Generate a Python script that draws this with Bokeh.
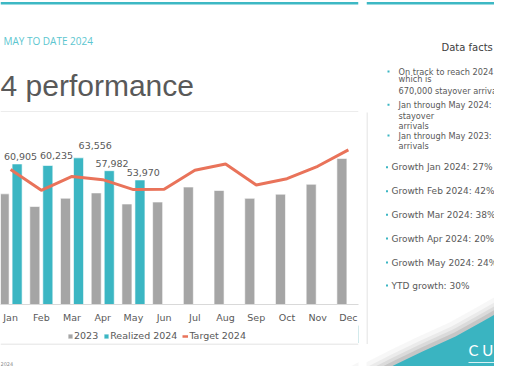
from bokeh.plotting import figure
from bokeh.models import Range1d, FactorRange, LabelSet, ColumnDataSource, Legend, LegendItem
from bokeh.transform import dodge
from bokeh.layouts import row, column
from bokeh.embed import file_html
from bokeh.resources import INLINE
from bokeh.core.properties import value

# ---------------- data ----------------
months = ["Jan", "Feb", "Mar", "Apr", "May", "Jun", "Jul", "Aug", "Sep", "Oct", "Nov", "Dec"]
arrivals_2023 = [47950, 42450, 46050, 48350, 43550, 44400, 50900, 49400, 46000, 47800, 52100, 63300]
realized_2024 = [60905, 60235, 63556, 57982, 53970]
target_2024 = [58500, 49500, 55500, 54100, 49800, 49900, 58200, 60900, 51800, 54500, 59900, 67000]
series_names = ["2023", "Realized 2024", "Target 2024"]

kicker = "MAY TO DATE 2024"
title_text = "4 performance"
facts_title = "Data facts"
facts_lines = ["On track to reach 2024 target", "which is", "670,000 stayover arrivals",
               "Jan through May 2024: 296,648", "stayover", "arrivals",
               "Jan through May 2023: 228,273 stayover", "arrivals"]
growth_lines = ["Growth Jan 2024: 27%", "Growth Feb 2024: 42%", "Growth Mar 2024: 38%",
                "Growth Apr 2024: 20%", "Growth May 2024: 24%", "YTD growth: 30%"]
footer_text = "2024"
brand_text = "C U"

# ---------------- styles ----------------
TEAL = "#3BB6C3"
GRAY = "#A5A5A5"
ORANGE = "#E9735A"
TXT = "#595959"
BORDER = "#D9D9D9"
FONT = "DejaVu Sans"

label_dx = [3.4, 8.7, 16.7, 2.8, 3.3]
label_dy = [7.3, 10.3, 12.3, 7.0, 7.4]


def blank(w, h, xr, yr):
    p = figure(width=w, height=h, x_range=Range1d(*xr), y_range=Range1d(*yr),
               output_backend="svg", toolbar_location=None,
               x_axis_location=None, y_axis_location=None,
               min_border=0, outline_line_color=None)
    p.xgrid.visible = False
    p.ygrid.visible = False
    return p


# ---------------- chart ----------------
x_range = FactorRange(factors=months, range_padding=-0.0285, range_padding_units="percent")
chart = figure(x_range=x_range, y_range=Range1d(0, 83200), width=366, height=213,
               output_backend="svg", toolbar_location=None, y_axis_location=None,
               min_border_left=0, min_border_top=0, min_border_right=8, min_border_bottom=18,
               outline_line_color=None)
chart.xgrid.visible = False
chart.ygrid.visible = False

src = ColumnDataSource(dict(month=months, y2023=arrivals_2023, target=target_2024))
src24 = ColumnDataSource(dict(month=months[:len(realized_2024)], y=realized_2024,
                              label=[f"{v:,}" for v in realized_2024],
                              dx=label_dx, dy=label_dy))

chart.vbar(x=dodge("month", -0.212, range=x_range), top="y2023", width=0.326, source=src,
           fill_color=GRAY, line_color="white", line_width=0.6)
chart.vbar(x=dodge("month", 0.212, range=x_range), top="y", width=0.326, source=src24,
           fill_color=TEAL, line_color="white", line_width=0.6)
chart.line(x="month", y="target", source=src, line_color=ORANGE, line_width=3)

labels = LabelSet(x=dodge("month", 0.212, range=x_range), y="y", text="label", source=src24,
                  x_offset="dx", y_offset="dy", text_align="center", text_baseline="middle",
                  text_font=value(FONT), text_font_size=value("9.5px"), text_color=TXT)
chart.add_layout(labels)

ax = chart.xaxis[0]
ax.axis_line_color = BORDER
ax.major_tick_line_color = None
ax.minor_tick_line_color = None
ax.major_tick_out = 0
ax.major_tick_in = 0
ax.major_label_standoff = 7
ax.major_label_text_font = FONT
ax.major_label_text_font_size = "9.5px"
ax.major_label_text_color = TXT

# ---------------- legend strip (below the axis, inside the chart box) ----------------
# legend keys: glyphs with the series' styles, parked outside the strip's visible range
leg = blank(366, 18, (0, 1), (0, 1))
g1 = leg.vbar(x=[5], top=[5], width=0.3, fill_color=GRAY, line_color="white", line_width=0.6)
g2 = leg.vbar(x=[5], top=[5], width=0.3, fill_color=TEAL, line_color="white", line_width=0.6)
g3 = leg.line(x=[5, 6], y=[5, 5], line_color=ORANGE, line_width=2.5)
legend = Legend(items=[LegendItem(label=series_names[0], renderers=[g1]),
                       LegendItem(label=series_names[1], renderers=[g2]),
                       LegendItem(label=series_names[2], renderers=[g3])],
                orientation="horizontal", location=(67, 2),
                glyph_width=6, glyph_height=6, label_standoff=1, spacing=5,
                padding=2, margin=0, label_height=10,
                border_line_color=None, background_fill_alpha=0,
                label_text_font=FONT, label_text_font_size="9.5px", label_text_color=TXT)
leg.add_layout(legend, "center")

# ---------------- top strip ----------------
top = blank(366, 112, (0, 366), (112, 0))
top.segment(x0=[0], y0=[2.8], x1=[366], y1=[2.8], line_color="#3DB8C4", line_width=2.4)
top.text(x=[3], y=[40.7], text=[kicker], text_font=value("Open Sans"),
         text_font_size=value("10px"), text_color="#5CC6CF", text_baseline="middle")
top.text(x=[0], y=[84.5], text=[title_text], text_font=value("Liberation Sans"),
         text_font_size=value("30px"), text_color=TXT, text_baseline="middle")
top.segment(x0=[0], y0=[111.5], x1=[366], y1=[111.5], line_color=BORDER, line_width=1)

# ---------------- swoosh shape (reference pixel coordinates) ----------------
edge = [(350, 385), (395, 362), (422, 349), (455, 334), (482, 319), (510, 303), (540, 286)]


def swoosh(p):
    for d, a in [(12, 0.05), (8, 0.08), (5, 0.12), (2, 0.18)]:
        xs = [x - d * 0.5 for x, y in edge] + [540, 340]
        ys = [y - d for x, y in edge] + [400, 400]
        p.patch(xs, ys, fill_color="#6b6b6b", fill_alpha=a, line_color=None)
    xs = [x for x, y in edge] + [540, 340]
    ys = [y + 2 for x, y in edge] + [400, 400]
    p.patch(xs, ys, fill_color="#3AB4C1", line_color=None)


# ---------------- bottom strip ----------------
bot = blank(366, 23, (0, 366), (366, 343))
bot.segment(x0=[0], y0=[343.5], x1=[366], y1=[343.5], line_color=BORDER, line_width=1)
bot.text(x=[0], y=[363], text=[footer_text], text_font=value(FONT),
         text_font_size=value("5px"), text_color="#8c8c8c", text_baseline="middle")
swoosh(bot)

# ---------------- right panel ----------------
right = blank(128, 366, (366, 494), (366, 0))
right.segment(x0=[366], y0=[2.8], x1=[494], y1=[2.8], line_color="#3DB8C4", line_width=2.4)
right.segment(x0=[366.5], y0=[112], x1=[366.5], y1=[343.5], line_color=BORDER, line_width=1)
right.text(x=[441], y=[46.7], text=[facts_title], text_font=value(FONT),
           text_font_size=value("10px"), text_color="#404040", text_baseline="middle")
right.text(x=[398] * len(facts_lines), y=[71, 78.3, 90, 104.3, 115, 125, 135, 145],
           text=facts_lines, text_font=value(FONT), text_font_size=value("8.2px"),
           text_color=TXT, text_baseline="middle")
right.scatter(x=[388, 388, 388], y=[71, 104.3, 135], marker="square", size=2,
              fill_color=TEAL, line_color=None)
gy = [166.7, 190.7, 214.3, 238, 262, 285]
right.text(x=[391] * len(growth_lines), y=gy, text=growth_lines, text_font=value(FONT),
           text_font_size=value("9px"), text_color=TXT, text_baseline="middle")
right.scatter(x=[386.5] * len(gy), y=gy, marker="square", size=2, fill_color=TEAL, line_color=None)
swoosh(right)
right.text(x=[468], y=[349], text=[brand_text], text_font=value("Lato"),
           text_font_size=value("15px"), text_color="white", text_baseline="middle")
right.segment(x0=[468], y0=[362], x1=[494], y1=[362], line_color="white", line_alpha=0.8, line_width=1)

layout = row(column(top, chart, leg, bot), right)
open("out.html", "w").write(file_html(layout, INLINE))
